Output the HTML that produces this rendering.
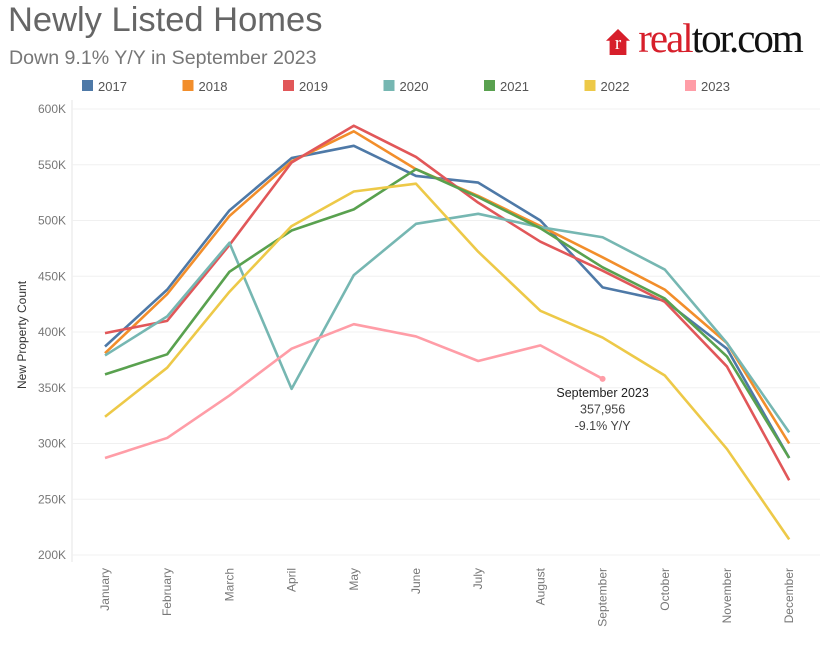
<!DOCTYPE html>
<html><head><meta charset="utf-8"><style>
body{margin:0;background:#fff;font-family:"Liberation Sans",sans-serif;}
#wrap{position:relative;width:831px;height:645px;overflow:hidden;}
.t{position:absolute;white-space:nowrap;}
</style></head><body>
<div id="wrap">
<div class="t" style="left:8px;top:1px;font-size:34.5px;color:#666;font-weight:300;">Newly Listed Homes</div>
<div class="t" style="left:9px;top:47px;font-size:19.6px;color:#777;">Down 9.1% Y/Y in September 2023</div>
<div class="t" style="left:606px;top:14px;font-family:'Liberation Serif',serif;font-size:41px;letter-spacing:-2px;"><span style="display:inline-block;width:24px;height:26px;background:#d71f2b;color:#fff;font-size:19px;text-align:center;line-height:30px;vertical-align:3px;letter-spacing:0;clip-path:polygon(50% 0,100% 45%,85% 45%,85% 100%,15% 100%,15% 45%,0 45%);">r</span><span style="color:#d71f2b;"> real</span><span style="color:#111;">tor.com</span></div>
<svg id="svg" width="831" height="645" style="position:absolute;left:0;top:0"></svg>
</div>
<script>
const years=["2017","2018","2019","2020","2021","2022","2023"];
const colors=["#4e79a7","#f28e2b","#e15759","#76b7b2","#59a14f","#edc948","#ff9da7"];
const months=["January","February","March","April","May","June","July","August","September","October","November","December"];
const yTicks=[200,250,300,350,400,450,500,550,600];
const s2017=[387,438,509,556,567,540,534,500,440,428,385,287];
const s2018=[381,434,504,553,580,546,522,495,467,438,390,300];
const s2019=[399,410,478,552,585,557,516,481,455,427,369,267];
const s2020=[379,414,480,349,451,497,506,494,485,456,390,310];
const s2021=[362,380,454,491,510,546,521,493,458,430,378,287];
const s2022=[324,368,436,495,526,533,472,419,395,361,295,214];
const s2023=[287,305,343,385,407,396,374,388,358];
const series=[s2017,s2018,s2019,s2020,s2021,s2022,s2023];
const NS="http://www.w3.org/2000/svg";
const svg=document.getElementById('svg');
const xS=i=>105+i*62.2;
const yS=v=>109+(600-v)*1.115;
function mk(tag,attrs){const e=document.createElementNS(NS,tag);for(const k in attrs)e.setAttribute(k,attrs[k]);svg.appendChild(e);return e;}
years.forEach((y,i)=>{
  const x=82+i*100.5;
  const r=mk('rect',{x:x,y:80,width:11,height:11,fill:colors[i]});
  
  
  const t=mk('text',{x:x+16,y:91,'font-size':13,fill:'#555'});t.textContent=y;
  
  
});
const ax=mk('line',{x1:72,y1:100,x2:72,y2:562,stroke:'#e6e6e6'});


yTicks.forEach(v=>{
  const g=mk('line',{x1:72,x2:820,y1:yS(v),y2:yS(v),stroke:'#f0f0f0'});
  
  
  const t=mk('text',{x:66,y:yS(v)+4,'font-size':12,fill:'#777','text-anchor':'end'});t.textContent=v+'K';
  
  
});
const yt=mk('text',{x:0,y:0,'font-size':12,fill:'#333','text-anchor':'middle',transform:'translate(26,335) rotate(-90)'});yt.textContent='New Property Count';


months.forEach((m,i)=>{
  const t=mk('text',{x:0,y:0,'font-size':12,fill:'#777','text-anchor':'end',transform:`translate(${xS(i)+4},568) rotate(-90)`});t.textContent=m;
  
  
});
series.forEach((s,k)=>{
  const p=mk('polyline',{points:s.map((v,i)=>xS(i)+','+yS(v)).join(' '),fill:'none',stroke:colors[k],'stroke-width':2.6,'stroke-linejoin':'round'});
  
  
});
const last=s2023.length-1;
const dot=mk('circle',{cx:xS(last),cy:yS(s2023[last]),r:3,fill:colors[6]});


const ann=[["September 2023","#222"],["357,956","#444"],["-9.1% Y/Y","#444"]];
ann.forEach((a,i)=>{const t=mk('text',{x:xS(last),y:397+i*16.5,'font-size':12.5,fill:a[1],'text-anchor':'middle'});t.textContent=a[0];
  
  });
</script>
</body></html>
